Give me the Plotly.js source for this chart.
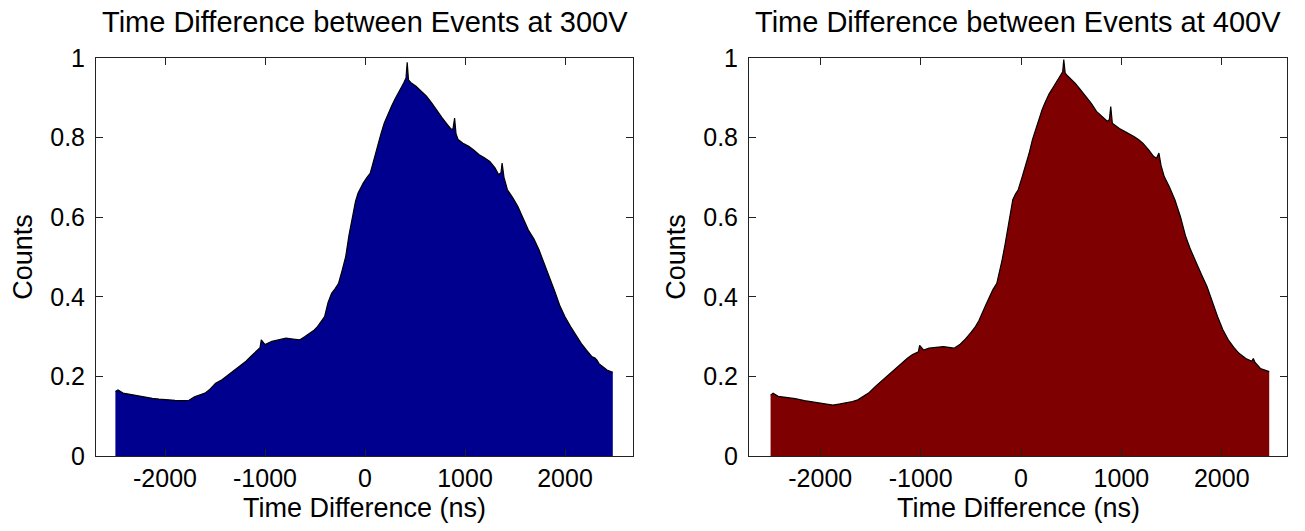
<!DOCTYPE html>
<html>
<head>
<meta charset="utf-8">
<script src="https://cdn.plot.ly/plotly-3.0.1.min.js"></script>
<style>
  html, body { margin: 0; padding: 0; background: #fff; }
  #chart { width: 1305px; height: 531px; }
</style>
</head>
<body>
<div id="chart"></div>
<script>
// ---- Data (time difference in ns, normalized counts) ----
const titles = ["Time Difference between Events at 300V", "Time Difference between Events at 400V"];
const xLabel = "Time Difference (ns)";
const yLabel = "Counts";

const time300 = [-2496, -2470, -2420, -2360, -2302, -2240, -2180, -2127, -2060, -1986, -1900, -1810, -1760, -1705, -1650, -1600, -1550, -1494, -1440, -1388, -1320, -1248, -1190, -1142, -1090, -1050, -1037, -1000, -931, -860, -791, -720, -650, -600, -545, -510, -475, -440, -404, -370, -334, -300, -264, -230, -193, -160, -123, -95, -70, -45, -18, 20, 53, 90, 123, 160, 193, 230, 264, 300, 334, 360, 387, 410, 422, 435, 460, 510, 560, 615, 670, 721, 770, 826, 861, 880, 896, 910, 931, 980, 1037, 1090, 1142, 1190, 1248, 1300, 1336, 1360, 1371, 1390, 1424, 1480, 1529, 1580, 1634, 1690, 1740, 1790, 1845, 1900, 1951, 2000, 2056, 2110, 2162, 2215, 2267, 2300, 2320, 2340, 2373, 2420, 2478];
const counts300 = [0.162, 0.166, 0.158, 0.155, 0.153, 0.149, 0.146, 0.145, 0.143, 0.141, 0.140, 0.139, 0.140, 0.149, 0.154, 0.158, 0.168, 0.183, 0.190, 0.200, 0.212, 0.225, 0.238, 0.250, 0.262, 0.272, 0.292, 0.280, 0.288, 0.292, 0.296, 0.294, 0.292, 0.300, 0.310, 0.316, 0.325, 0.336, 0.350, 0.385, 0.409, 0.420, 0.434, 0.465, 0.501, 0.555, 0.602, 0.640, 0.660, 0.672, 0.686, 0.700, 0.711, 0.745, 0.778, 0.810, 0.837, 0.860, 0.878, 0.897, 0.912, 0.925, 0.937, 0.950, 0.989, 0.945, 0.938, 0.929, 0.918, 0.904, 0.886, 0.866, 0.850, 0.832, 0.821, 0.822, 0.849, 0.810, 0.795, 0.786, 0.778, 0.768, 0.757, 0.750, 0.740, 0.724, 0.707, 0.712, 0.736, 0.700, 0.669, 0.648, 0.627, 0.598, 0.568, 0.545, 0.518, 0.485, 0.451, 0.412, 0.376, 0.350, 0.325, 0.303, 0.283, 0.266, 0.250, 0.246, 0.241, 0.232, 0.225, 0.216, 0.210];

const time400 = [-2495, -2470, -2420, -2380, -2335, -2250, -2158, -2070, -1981, -1930, -1874, -1800, -1732, -1680, -1626, -1570, -1519, -1450, -1377, -1320, -1271, -1200, -1129, -1080, -1022, -1010, -970, -916, -850, -774, -720, -667, -610, -561, -500, -454, -420, -383, -350, -312, -280, -241, -210, -188, -160, -135, -110, -82, -55, -28, 10, 43, 80, 114, 150, 185, 210, 238, 280, 327, 370, 398, 415, 426, 440, 468, 500, 539, 590, 646, 700, 752, 810, 859, 880, 894, 910, 930, 980, 1036, 1080, 1125, 1170, 1214, 1270, 1320, 1350, 1374, 1395, 1427, 1480, 1533, 1590, 1640, 1690, 1746, 1800, 1853, 1900, 1959, 2010, 2065, 2120, 2172, 2240, 2300, 2314, 2330, 2385, 2430, 2473];
const counts400 = [0.153, 0.158, 0.150, 0.149, 0.148, 0.144, 0.139, 0.135, 0.132, 0.130, 0.128, 0.131, 0.134, 0.137, 0.141, 0.150, 0.158, 0.175, 0.191, 0.204, 0.216, 0.232, 0.246, 0.255, 0.262, 0.278, 0.266, 0.271, 0.273, 0.275, 0.273, 0.271, 0.280, 0.292, 0.310, 0.325, 0.340, 0.359, 0.380, 0.401, 0.418, 0.434, 0.465, 0.493, 0.530, 0.568, 0.610, 0.644, 0.658, 0.669, 0.700, 0.728, 0.760, 0.795, 0.825, 0.853, 0.870, 0.887, 0.910, 0.929, 0.945, 0.958, 0.965, 0.996, 0.962, 0.954, 0.946, 0.937, 0.921, 0.904, 0.886, 0.866, 0.852, 0.841, 0.845, 0.878, 0.836, 0.832, 0.823, 0.815, 0.810, 0.803, 0.795, 0.786, 0.770, 0.753, 0.748, 0.761, 0.730, 0.702, 0.675, 0.644, 0.600, 0.552, 0.518, 0.484, 0.455, 0.426, 0.390, 0.350, 0.318, 0.292, 0.273, 0.258, 0.245, 0.238, 0.245, 0.236, 0.220, 0.216, 0.212];

const xTicks = [-2000, -1000, 0, 1000, 2000];
const xTickText = ["-2000", "-1000", "0", "1000", "2000"];
const yTicks = [0, 0.2, 0.4, 0.6, 0.8, 1];
const yTickText = ["0", "0.2", "0.4", "0.6", "0.8", "1"];

// ---- Styling ----
const FONT = "Liberation Sans, Arial, Helvetica, sans-serif";
const fillColors = ["#00008f", "#7f0000"];

const traces = [
  { x: time300, y: counts300, xaxis: "x", yaxis: "y" },
  { x: time400, y: counts400, xaxis: "x2", yaxis: "y2" }
].map((t, i) => Object.assign(t, {
  type: "scatter", mode: "lines", fill: "tozeroy",
  fillcolor: fillColors[i],
  line: { color: "#000000", width: 1.2, shape: "linear" },
  hoverinfo: "x+y", showlegend: false
}));

function xAxis(domain, range) {
  return {
    domain: domain, range: range,
    tickvals: xTicks, ticktext: xTickText,
    ticks: "inside", ticklen: 7, tickcolor: "#222", tickwidth: 1,
    showline: true, linecolor: "#222", linewidth: 1, mirror: "ticks",
    showgrid: false, zeroline: false,
    tickfont: { family: FONT, size: 25, color: "#000" },
    ticklabelstandoff: 0,
    automargin: false
  };
}
function yAxis(domain, anchor) {
  return {
    domain: domain, range: [0, 1], anchor: anchor,
    tickvals: yTicks, ticktext: yTickText,
    ticks: "inside", ticklen: 7, tickcolor: "#222", tickwidth: 1,
    showline: true, linecolor: "#222", linewidth: 1, mirror: "ticks",
    showgrid: false, zeroline: false,
    tickfont: { family: FONT, size: 25, color: "#000" },
    ticklabelstandoff: 5,
    title: { text: yLabel, font: { family: FONT, size: 27, color: "#000" } },
    automargin: false
  };
}

const yDom = [75 / 531, 473 / 531];
const panelTitles = titles.map((t, i) => ({
  text: t, showarrow: false,
  xref: (i === 0 ? "x" : "x2") + " domain", yref: "paper",
  x: 0.5, y: 1, yanchor: "top", xanchor: "center", yshift: -4,
  font: { family: FONT, size: 29, color: "#000" }
}));
const xTitles = ["x", "x2"].map(ax => ({
  text: xLabel, showarrow: false,
  xref: ax + " domain", yref: "paper",
  x: 0.5, y: 23 / 531, yanchor: "middle", xanchor: "center",
  font: { family: FONT, size: 27, color: "#000" }
}));

const layout = {
  width: 1305, height: 531,
  margin: { l: 0, r: 0, t: 0, b: 0 },
  paper_bgcolor: "#ffffff", plot_bgcolor: "#ffffff",
  xaxis: Object.assign(xAxis([96 / 1305, 633 / 1305], [-2690, 2680]), { anchor: "y" }),
  yaxis: yAxis(yDom, "x"),
  xaxis2: Object.assign(xAxis([749 / 1305, 1287 / 1305], [-2710, 2650]), { anchor: "y2" }),
  yaxis2: yAxis(yDom, "x2"),
  annotations: panelTitles.concat(xTitles)
};

Plotly.newPlot("chart", traces, layout, { displayModeBar: false, staticPlot: true });
</script>
</body>
</html>
